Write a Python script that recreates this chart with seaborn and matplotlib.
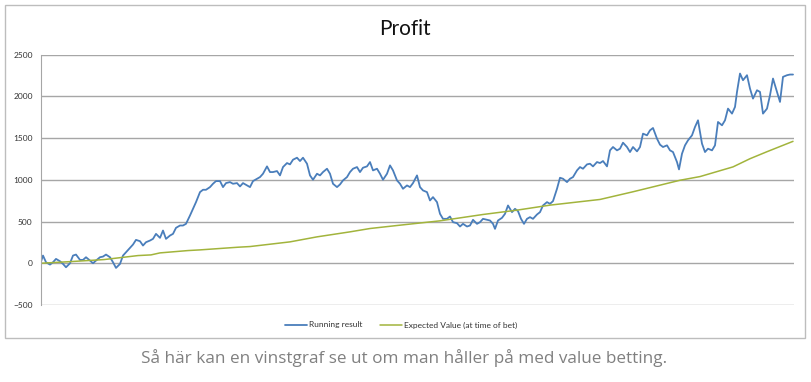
import numpy as np
import pandas as pd
import matplotlib.pyplot as plt
import seaborn as sns
from matplotlib.patches import Rectangle

# running result (bet number, profit)
bets = [0, 2, 5, 9, 12, 15, 19, 22, 25, 29, 32, 35, 39, 42, 45, 49, 52, 55, 59, 62,
        65, 69, 72, 75, 79, 82, 85, 89, 92, 95, 99, 102, 105, 109, 112, 115, 119, 122, 125, 129,
        132, 135, 139, 142, 145, 149, 152, 155, 159, 162, 165, 169, 172, 175, 179, 182, 185, 189, 192, 196,
        199, 202, 206, 209, 212, 216, 219, 222, 226, 229, 232, 236, 239, 242, 246, 249, 252, 256, 259, 262,
        266, 269, 272, 276, 279, 282, 286, 289, 292, 296, 299, 302, 306, 309, 312, 316, 319, 322, 326, 329,
        332, 336, 339, 342, 346, 349, 352, 356, 359, 362, 366, 369, 372, 376, 379, 382, 386, 389, 392, 396,
        399, 402, 406, 409, 412, 416, 419, 422, 426, 429, 432, 436, 439, 442, 446, 449, 452, 454, 457, 461,
        464, 467, 471, 474, 477, 480, 483, 486, 489, 492, 496, 499, 502, 506, 509, 512, 516, 519, 522, 526,
        529, 532, 536, 539, 542, 546, 549, 552, 556, 559, 562, 566, 569, 572, 576, 579, 582, 586, 589, 592,
        596, 599, 602, 606, 609, 612, 616, 619, 622, 626, 629, 632, 636, 638, 641, 644, 647, 651, 654, 657,
        661, 664, 667, 671, 674, 677, 681, 684, 687, 691, 694, 696, 699, 702, 706, 709, 712, 716, 719, 722,
        726, 729, 732, 736, 739, 742, 746, 749, 752]
running = [20, 92, 12, -16, 12, 52, 24, -8, -48, 0, 92, 104, 40, 40, 72, 32, 0, 32, 72, 80,
           104, 72, 12, -56, -8, 92, 132, 184, 224, 280, 264, 212, 252, 272, 292, 352, 304, 392, 292, 332,
           352, 424, 452, 452, 472, 572, 652, 732, 852, 880, 880, 912, 952, 984, 984, 912, 960, 972, 952, 960,
           920, 960, 932, 912, 984, 1012, 1032, 1072, 1160, 1092, 1092, 1104, 1052, 1152, 1200, 1184, 1240, 1264, 1224, 1264,
           1192, 1052, 1000, 1072, 1052, 1092, 1132, 1072, 952, 912, 944, 992, 1032, 1092, 1132, 1152, 1092, 1144, 1160, 1212,
           1112, 1132, 1072, 1000, 1072, 1172, 1112, 992, 952, 892, 932, 912, 960, 1052, 912, 872, 852, 752, 792, 732,
           592, 532, 532, 560, 492, 480, 440, 472, 440, 452, 520, 472, 492, 532, 520, 512, 472, 412, 512, 544,
           592, 692, 612, 652, 624, 532, 472, 532, 552, 532, 584, 612, 692, 732, 712, 744, 892, 1024, 1012, 972,
           1012, 1032, 1112, 1152, 1132, 1184, 1192, 1160, 1212, 1200, 1224, 1160, 1352, 1392, 1352, 1372, 1444, 1392, 1332, 1392,
           1340, 1392, 1552, 1532, 1592, 1620, 1492, 1420, 1392, 1412, 1352, 1332, 1212, 1124, 1312, 1412, 1472, 1532, 1632, 1712,
           1432, 1332, 1372, 1352, 1412, 1692, 1652, 1712, 1852, 1792, 1872, 2052, 2272, 2192, 2252, 2092, 1972, 2072, 2052, 1792,
           1852, 2012, 2212, 2052, 1932, 2232, 2252, 2260, 2260]

# expected value (bet number, EV)
ev_bets = [0, 30, 63, 97, 110, 119, 147, 159, 197, 209, 249, 276, 309, 329, 359, 399,
           442, 476, 509, 559, 592, 639, 659, 692, 709, 726, 752]
expected = [0, 20, 44, 92, 100, 124, 152, 160, 192, 200, 256, 316, 376, 416, 456, 508,
            584, 636, 696, 764, 856, 994, 1038, 1154, 1252, 1336, 1460]

yticks = [-500, 0, 500, 1000, 1500, 2000, 2500]
caption = 'Så här kan en vinstgraf se ut om man håller på med value betting.'

sns.set_style('white')
plt.rcParams['font.family'] = ['Lato', 'DejaVu Sans']

W, H = 812, 382
fig = plt.figure(figsize=(W / 100, H / 100), dpi=100)
ax = fig.add_axes([41 / W, 1 - 305 / H, (794 - 41) / W, (305 - 54.5) / H])

run_df = pd.DataFrame({'bet': bets, 'value': running})
ev_df = pd.DataFrame({'bet': ev_bets, 'value': expected})
sns.lineplot(data=run_df, x='bet', y='value', ax=ax, color='#4a7ebb', lw=1.3,
             label='Running result')
sns.lineplot(data=ev_df, x='bet', y='value', ax=ax, color='#a2b43c', lw=1.1,
             label='Expected Value (at time of bet)')

ax.set_xlim(0, 753)
ax.set_ylim(-500, 2500)
ax.set_yticks(yticks)
ax.set_xticks([])
ax.set_xlabel('')
ax.set_ylabel('')
ax.yaxis.grid(True, color='#a6a6a6', lw=1)
for s in ['top', 'right', 'bottom']:
    ax.spines[s].set_visible(False)
ax.spines['left'].set_color('#a6a6a6')
ax.tick_params(axis='y', labelsize=6, colors='#333333', length=0, pad=6)

fig.text(405 / W, 1 - 29 / H, 'Profit', ha='center', va='center', fontsize=15, color='#111111')

ax.legend(loc='center', bbox_to_anchor=(401 / W, 1 - 325 / H), bbox_transform=fig.transFigure,
          ncol=2, frameon=False, fontsize=6, handlelength=2.6, columnspacing=2.2,
          handletextpad=0.2, labelcolor='#333333')

fig.patches.append(Rectangle((5 / W, 1 - 338 / H), 800 / W, 333 / H, transform=fig.transFigure,
                             fill=False, edgecolor='#bdbdbd', lw=1))

fig.text(404 / W, 1 - 358 / H, caption, ha='center', va='center', fontsize=12.3,
         color='#808080', family=['Open Sans', 'DejaVu Sans'])

fig.savefig('out.png', dpi=100, facecolor='white')
